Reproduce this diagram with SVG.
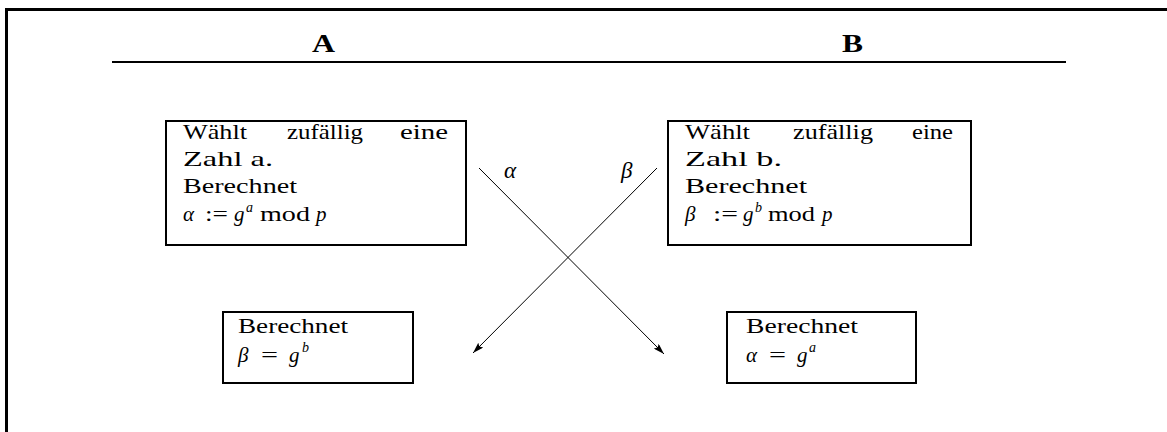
<svg xmlns="http://www.w3.org/2000/svg" width="1167" height="432" viewBox="0 0 1167 432">
<style>
.frame{fill:none;stroke:#000;stroke-width:3}
.rule{stroke:#000;stroke-width:2}
.box{fill:#fff;stroke:#000;stroke-width:2}
.conn{fill:none;stroke:#000;stroke-width:1}
text{font-family:"Liberation Serif","Times New Roman",serif;font-size:21px;fill:#000}
.hd{font-size:25px;font-weight:bold}
.it{font-style:italic}
.lbl{font-size:23px;font-style:italic}
.sup{font-size:14px;font-style:italic}
</style>
<defs>
<marker id="ah" viewBox="0 0 11 7" refX="11" refY="3.5" markerWidth="11" markerHeight="7" markerUnits="userSpaceOnUse" orient="auto">
<path d="M0,0 L11,3.5 L0,7 L2,3.5 z" fill="#000"/>
</marker>
</defs>
<rect width="1167" height="432" fill="#fff"/>
<g id="frame">
<path class="frame" d="M6.5,432 L6.5,9.5 L1167,9.5"/>
<line class="rule" x1="112" y1="62" x2="1066" y2="62"/>
<text class="hd" x="312" y="52" textLength="23" lengthAdjust="spacingAndGlyphs">A</text>
<text class="hd" x="842" y="52" textLength="21" lengthAdjust="spacingAndGlyphs">B</text>
</g>
<g id="connectors">
<line class="conn" x1="479" y1="168" x2="664" y2="354" marker-end="url(#ah)"/>
<line class="conn" x1="657" y1="168" x2="473" y2="353" marker-end="url(#ah)"/>
<text class="lbl" x="504" y="178">α</text>
<text class="lbl" x="621" y="178">β</text>
</g>
<g id="nodeA1">
<rect class="box" x="166" y="121" width="300" height="124"/>
<text x="183" y="139" textLength="64" lengthAdjust="spacingAndGlyphs">Wählt</text>
<text x="287" y="139" textLength="76" lengthAdjust="spacingAndGlyphs">zufällig</text>
<text x="400" y="139" textLength="48" lengthAdjust="spacingAndGlyphs">eine</text>
<text x="183" y="166" textLength="90" lengthAdjust="spacingAndGlyphs">Zahl a.</text>
<text x="183" y="193" textLength="114" lengthAdjust="spacingAndGlyphs">Berechnet</text>
<text x="183" y="221"><tspan class="it">α</tspan><tspan x="205" textLength="23" lengthAdjust="spacingAndGlyphs">:=</tspan><tspan x="234" class="it">g</tspan><tspan x="246" y="212" class="sup">a</tspan><tspan x="260" y="221" textLength="50" lengthAdjust="spacingAndGlyphs">mod</tspan><tspan x="316" class="it">p</tspan></text>
</g>
<g id="nodeB1">
<rect class="box" x="668" y="121" width="303" height="124"/>
<text x="685" y="139" textLength="65" lengthAdjust="spacingAndGlyphs">Wählt</text>
<text x="793" y="139" textLength="80" lengthAdjust="spacingAndGlyphs">zufällig</text>
<text x="912" y="139" textLength="41" lengthAdjust="spacingAndGlyphs">eine</text>
<text x="685" y="166" textLength="97" lengthAdjust="spacingAndGlyphs">Zahl b.</text>
<text x="685" y="193" textLength="122" lengthAdjust="spacingAndGlyphs">Berechnet</text>
<text x="685" y="221"><tspan class="it">β</tspan><tspan x="713" textLength="25" lengthAdjust="spacingAndGlyphs">:=</tspan><tspan x="743" class="it">g</tspan><tspan x="755" y="212" class="sup">b</tspan><tspan x="768" y="221" textLength="47" lengthAdjust="spacingAndGlyphs">mod</tspan><tspan x="822" class="it">p</tspan></text>
</g>
<g id="nodeA2">
<rect class="box" x="223" y="312" width="190" height="71"/>
<text x="238" y="333" textLength="110" lengthAdjust="spacingAndGlyphs">Berechnet</text>
<text x="238" y="362"><tspan class="it">β</tspan><tspan x="261" textLength="17" lengthAdjust="spacingAndGlyphs">=</tspan><tspan x="289" class="it">g</tspan><tspan x="302" y="352" class="sup">b</tspan></text>
</g>
<g id="nodeB2">
<rect class="box" x="727" y="312" width="189" height="71"/>
<text x="746" y="333" textLength="112" lengthAdjust="spacingAndGlyphs">Berechnet</text>
<text x="746" y="362"><tspan class="it">α</tspan><tspan x="769" textLength="17" lengthAdjust="spacingAndGlyphs">=</tspan><tspan x="797" class="it">g</tspan><tspan x="809" y="352" class="sup">a</tspan></text>
</g>
</svg>
